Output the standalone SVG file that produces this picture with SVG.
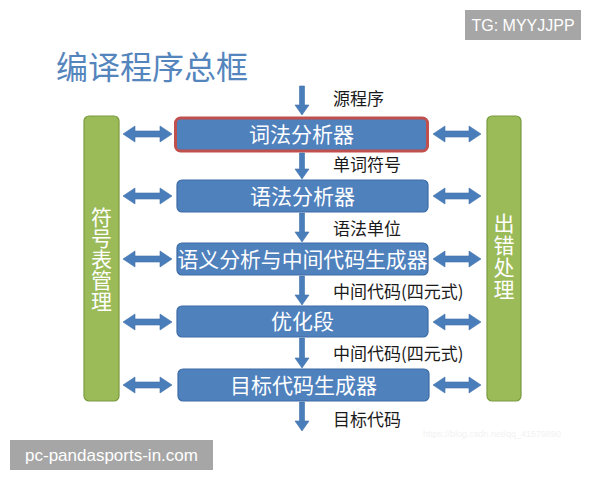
<svg xmlns="http://www.w3.org/2000/svg" width="600" height="480" viewBox="0 0 600 480">
<style>
.cjk{font-family:"Noto Sans CJK SC","Noto Sans",sans-serif}
.box{fill:#4f81bd;stroke:#3c6ca6;stroke-width:1.2}
.boxt{fill:#fff;font-size:21px;text-anchor:middle}
.side{fill:#9bbb59;stroke:#7a9a40;stroke-width:1.2}
.sidet{fill:#fff;font-size:21px;writing-mode:vertical-rl;text-anchor:start}
.lbl{fill:#1a1a1a;font-size:17px}
.arr{fill:#4a7ebb;stroke:#3f70aa;stroke-width:0.6}
</style>
<rect width="600" height="480" fill="#fff"/>
<text x="56" y="79" class="cjk" font-size="32" fill="#5585bd">编译程序总框</text>
<g id="tg"><rect x="465" y="10" width="116" height="30" fill="#a6a6a6"/><text x="523" y="31" font-family="Liberation Sans,Arial,sans-serif" font-size="16" fill="#fff" text-anchor="middle">TG: MYYJJPP</text></g>

<g id="symtab"><rect class="side" x="84" y="116" width="35" height="285" rx="5"/>
<text class="cjk sidet" x="101.5" y="207">符号表管理</text></g>
<g id="errors"><rect class="side" x="487" y="116" width="34" height="285" rx="5"/>
<text class="cjk sidet" x="504" y="213" letter-spacing="1">出错处理</text></g>

<g id="lexer"><rect x="175.5" y="118" width="252" height="33" rx="5" fill="#4f81bd" stroke="#c0504d" stroke-width="3"/><text class="cjk boxt" x="301.5" y="142">词法分析器</text></g>
<g id="parser"><rect class="box" x="177" y="180" width="251" height="32" rx="5"/><text class="cjk boxt" x="302.5" y="204">语法分析器</text></g>
<g id="semantic"><rect class="box" x="177" y="243" width="251" height="32" rx="5"/><text class="cjk boxt" x="302.5" y="267" textLength="250" lengthAdjust="spacingAndGlyphs">语义分析与中间代码生成器</text></g>
<g id="optimizer"><rect class="box" x="177" y="306" width="251" height="31" rx="5"/><text class="cjk boxt" x="302.5" y="329">优化段</text></g>
<g id="codegen"><rect class="box" x="178" y="369" width="251" height="32" rx="5"/><text class="cjk boxt" x="303.5" y="393">目标代码生成器</text></g>

<g id="connectors">
<path class="arr" d="M299.5,86 L304.5,86 L304.5,105 L309,105 L302,115 L295,105 L299.5,105 Z"/>
<path class="arr" d="M299.5,153 L304.5,153 L304.5,169 L309,169 L302,179 L295,169 L299.5,169 Z"/>
<path class="arr" d="M299.5,213 L304.5,213 L304.5,232 L309,232 L302,242 L295,232 L299.5,232 Z"/>
<path class="arr" d="M299.5,276 L304.5,276 L304.5,295 L309,295 L302,305 L295,295 L299.5,295 Z"/>
<path class="arr" d="M299.5,338 L304.5,338 L304.5,358 L309,358 L302,368 L295,358 L299.5,358 Z"/>
<path class="arr" d="M299.5,402 L304.5,402 L304.5,421 L309,421 L302,431 L295,421 L299.5,421 Z"/>
<path class="arr" d="M123,134 L135,126 L135,131 L160,131 L160,126 L172,134 L160,142 L160,137 L135,137 L135,142 Z"/>
<path class="arr" d="M123,196 L135,188 L135,193 L160,193 L160,188 L172,196 L160,204 L160,199 L135,199 L135,204 Z"/>
<path class="arr" d="M123,259 L135,251 L135,256 L160,256 L160,251 L172,259 L160,267 L160,262 L135,262 L135,267 Z"/>
<path class="arr" d="M123,322 L135,314 L135,319 L160,319 L160,314 L172,322 L160,330 L160,325 L135,325 L135,330 Z"/>
<path class="arr" d="M123,385 L135,377 L135,382 L160,382 L160,377 L172,385 L160,393 L160,388 L135,388 L135,393 Z"/>
<path class="arr" d="M433,134 L445,126 L445,131 L469,131 L469,126 L481,134 L469,142 L469,137 L445,137 L445,142 Z"/>
<path class="arr" d="M433,196 L445,188 L445,193 L469,193 L469,188 L481,196 L469,204 L469,199 L445,199 L445,204 Z"/>
<path class="arr" d="M433,259 L445,251 L445,256 L469,256 L469,251 L481,259 L469,267 L469,262 L445,262 L445,267 Z"/>
<path class="arr" d="M433,322 L445,314 L445,319 L469,319 L469,314 L481,322 L469,330 L469,325 L445,325 L445,330 Z"/>
<path class="arr" d="M433,385 L445,377 L445,382 L469,382 L469,377 L481,385 L469,393 L469,388 L445,388 L445,393 Z"/>
</g>

<g id="labels">
<text class="cjk lbl" x="333" y="105">源程序</text>
<text class="cjk lbl" x="333" y="171">单词符号</text>
<text class="cjk lbl" x="333" y="235">语法单位</text>
<text class="cjk lbl" x="333" y="298">中间代码(四元式)</text>
<text class="cjk lbl" x="333" y="360">中间代码(四元式)</text>
<text class="cjk lbl" x="333" y="426">目标代码</text>
</g>
<text x="423" y="437" font-family="Liberation Sans,Arial,sans-serif" font-size="9" fill="#f2f2f2">https://blog.csdn.net/qq_41579890</text>
<g id="site"><rect x="10" y="440" width="203" height="30" fill="#a6a6a6"/><text x="111.5" y="461" font-family="Liberation Sans,Arial,sans-serif" font-size="17" fill="#fff" text-anchor="middle">pc-pandasports-in.com</text></g>
</svg>
